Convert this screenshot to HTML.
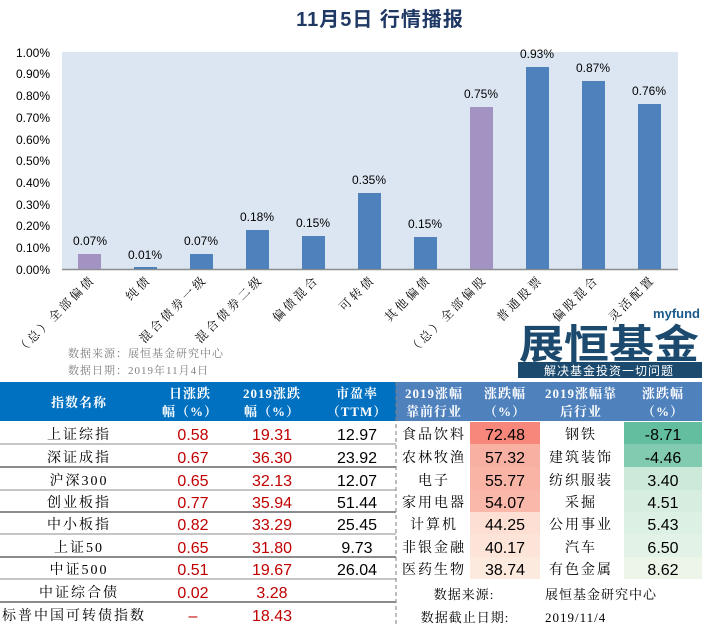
<!DOCTYPE html>
<html><head><meta charset="utf-8"><style>
body{margin:0;background:#fff;}
svg{display:block;}
.t{font-family:"Liberation Sans","Noto Sans CJK SC",sans-serif;}
.s{font-family:"Liberation Serif","Noto Serif CJK SC",serif;}
</style></head><body>
<svg width="702" height="626" viewBox="0 0 702 626" xmlns="http://www.w3.org/2000/svg">
<text x="380" y="26" text-anchor="middle" class="t" font-size="20" font-weight="bold" fill="#1f3864" letter-spacing="1">11月5日  行情播报</text>
<rect x="62" y="52" width="616" height="217" fill="#dce6f2"/>
<line x1="62" y1="269.5" x2="678" y2="269.5" stroke="#8c8c8c" stroke-width="1.5"/>
<g class="t" font-size="12" fill="#000" text-anchor="end">
<text x="50" y="274">0.00%</text><text x="50" y="252">0.10%</text><text x="50" y="230">0.20%</text><text x="50" y="209">0.30%</text><text x="50" y="187">0.40%</text><text x="50" y="165">0.50%</text><text x="50" y="144">0.60%</text><text x="50" y="122">0.70%</text><text x="50" y="100">0.80%</text><text x="50" y="78">0.90%</text><text x="50" y="57">1.00%</text>
</g>
<g class="t" font-size="12" text-anchor="middle" fill="#000">
<rect x="78" y="254" width="23" height="15" fill="#a393c3"/><text x="90" y="245">0.07%</text>
<rect x="134" y="267" width="23" height="2" fill="#4f81bd"/><text x="145" y="259">0.01%</text>
<rect x="190" y="254" width="23" height="15" fill="#4f81bd"/><text x="201" y="245">0.07%</text>
<rect x="246" y="230" width="23" height="39" fill="#4f81bd"/><text x="257" y="221">0.18%</text>
<rect x="302" y="236" width="23" height="33" fill="#4f81bd"/><text x="313" y="227">0.15%</text>
<rect x="358" y="193" width="23" height="76" fill="#4f81bd"/><text x="369" y="184">0.35%</text>
<rect x="414" y="237" width="23" height="32" fill="#4f81bd"/><text x="425" y="228">0.15%</text>
<rect x="470" y="107" width="23" height="162" fill="#a393c3"/><text x="481" y="98">0.75%</text>
<rect x="526" y="67" width="23" height="202" fill="#4f81bd"/><text x="537" y="58">0.93%</text>
<rect x="582" y="81" width="23" height="188" fill="#4f81bd"/><text x="593" y="72">0.87%</text>
<rect x="638" y="104" width="23" height="165" fill="#4f81bd"/><text x="649" y="95">0.76%</text>
</g>
<g class="s" font-size="12" fill="#000" text-anchor="end" letter-spacing="3">
<text transform="translate(96,280) rotate(-45)">（总）全部偏债</text>
<text transform="translate(152,280) rotate(-45)">纯债</text>
<text transform="translate(208,280) rotate(-45)">混合债券一级</text>
<text transform="translate(264,280) rotate(-45)">混合债券二级</text>
<text transform="translate(320,280) rotate(-45)">偏债混合</text>
<text transform="translate(376,280) rotate(-45)">可转债</text>
<text transform="translate(432,280) rotate(-45)">其他偏债</text>
<text transform="translate(488,280) rotate(-45)">（总）全部偏股</text>
<text transform="translate(544,280) rotate(-45)">普通股票</text>
<text transform="translate(600,280) rotate(-45)">偏股混合</text>
<text transform="translate(656,280) rotate(-45)">灵活配置</text>
</g>
<g class="s" font-size="11" fill="#808080" letter-spacing="1">
<text x="68" y="357">数据来源：展恒基金研究中心</text>
<text x="68" y="374">数据日期：2019年11月4日</text>
</g>
<text x="700" y="318" text-anchor="end" class="t" font-size="13" font-weight="bold" fill="#1a5a8a">myfund</text>
<text x="609" y="358" text-anchor="middle" class="t" font-size="40" font-weight="bold" fill="#1b4a6e" textLength="180" lengthAdjust="spacingAndGlyphs">展恒基金</text>
<rect x="518" y="362" width="184" height="16" fill="#1b4a6e"/>
<text x="609" y="375" text-anchor="middle" class="t" font-size="12" fill="#fff" letter-spacing="1">解决基金投资一切问题</text>
<rect x="0" y="382" width="396" height="39" fill="#0070c0"/>
<rect x="396" y="382" width="306" height="39" fill="#4f81bd"/>
<g class="s" font-size="13" font-weight="bold" fill="#fff" text-anchor="middle" letter-spacing="1">
<text x="79" y="407">指数名称</text>
<text x="190" y="398">日涨跌</text><text x="190" y="416">幅（%）</text>
<text x="272" y="398">2019涨跌</text><text x="272" y="416">幅（%）</text>
<text x="357" y="398">市盈率</text><text x="357" y="416">（TTM）</text>
<text x="434" y="398">2019涨幅</text><text x="434" y="416">靠前行业</text>
<text x="505" y="398">涨跌幅</text><text x="505" y="416">（%）</text>
<text x="581" y="398">2019涨幅靠</text><text x="581" y="416">后行业</text>
<text x="663" y="398">涨跌幅</text><text x="663" y="416">（%）</text>
</g>
<rect x="470" y="422" width="70" height="22" fill="#f6877a"/>
<rect x="470" y="444" width="70" height="23" fill="#f8b0a2"/>
<rect x="470" y="467" width="70" height="23" fill="#f9b4a6"/>
<rect x="470" y="490" width="70" height="22" fill="#f9b8aa"/>
<rect x="470" y="512" width="70" height="22" fill="#fde0d3"/>
<rect x="470" y="534" width="70" height="23" fill="#fde4d8"/>
<rect x="470" y="557" width="70" height="22" fill="#fdeadf"/>
<rect x="624" y="422" width="78" height="22" fill="#63bea0"/>
<rect x="624" y="444" width="78" height="23" fill="#82cab0"/>
<rect x="624" y="467" width="78" height="23" fill="#cde9d9"/>
<rect x="624" y="490" width="78" height="22" fill="#d6ede0"/>
<rect x="624" y="512" width="78" height="22" fill="#dcf0e4"/>
<rect x="624" y="534" width="78" height="23" fill="#e3f2e7"/>
<rect x="624" y="557" width="78" height="22" fill="#edf5e8"/>
<g stroke="#8c8c8c">
<line x1="0" y1="444" x2="396" y2="444" stroke-width="1"/>
<line x1="0" y1="467" x2="396" y2="467" stroke-width="2"/>
<line x1="0" y1="490" x2="396" y2="490" stroke-width="1"/>
<line x1="0" y1="512" x2="396" y2="512" stroke-width="2"/>
<line x1="0" y1="534" x2="396" y2="534" stroke-width="1"/>
<line x1="0" y1="557" x2="396" y2="557" stroke-width="2"/>
<line x1="0" y1="579" x2="396" y2="579" stroke-width="1"/>
<line x1="0" y1="602" x2="396" y2="602" stroke-width="2"/>
</g>
<line x1="396" y1="382" x2="396" y2="626" stroke="#7f7f7f" stroke-dasharray="4,3"/>
<g class="s" font-size="14" fill="#000" text-anchor="middle" letter-spacing="2">
<text x="79" y="439">上证综指</text>
<text x="79" y="462">深证成指</text>
<text x="79" y="485">沪深300</text>
<text x="79" y="507">创业板指</text>
<text x="79" y="529">中小板指</text>
<text x="79" y="552">上证50</text>
<text x="79" y="574">中证500</text>
<text x="79" y="597">中证综合债</text>
<text x="74" y="620">标普中国可转债指数</text>
<text x="434" y="439">食品饮料</text>
<text x="434" y="462">农林牧渔</text>
<text x="434" y="485">电子</text>
<text x="434" y="507">家用电器</text>
<text x="434" y="529">计算机</text>
<text x="434" y="552">非银金融</text>
<text x="434" y="574">医药生物</text>
<text x="581" y="439">钢铁</text>
<text x="581" y="462">建筑装饰</text>
<text x="581" y="485">纺织服装</text>
<text x="581" y="507">采掘</text>
<text x="581" y="529">公用事业</text>
<text x="581" y="552">汽车</text>
<text x="581" y="574">有色金属</text>
</g>
<g class="t" font-size="16" text-anchor="middle">
<g fill="#c00000">
<text x="193" y="440">0.58</text><text x="272" y="440">19.31</text>
<text x="193" y="463">0.67</text><text x="272" y="463">36.30</text>
<text x="193" y="486">0.65</text><text x="272" y="486">32.13</text>
<text x="193" y="508">0.77</text><text x="272" y="508">35.94</text>
<text x="193" y="530">0.82</text><text x="272" y="530">33.29</text>
<text x="193" y="553">0.65</text><text x="272" y="553">31.80</text>
<text x="193" y="575">0.51</text><text x="272" y="575">19.67</text>
<text x="193" y="598">0.02</text><text x="272" y="598">3.28</text>
<text x="193" y="621">–</text><text x="272" y="621">18.43</text>
</g>
<g fill="#000">
<text x="357" y="440">12.97</text><text x="357" y="463">23.92</text><text x="357" y="486">12.07</text><text x="357" y="508">51.44</text><text x="357" y="530">25.45</text><text x="357" y="553">9.73</text><text x="357" y="575">26.04</text>
<text x="505" y="440">72.48</text><text x="505" y="463">57.32</text><text x="505" y="486">55.77</text><text x="505" y="508">54.07</text><text x="505" y="530">44.25</text><text x="505" y="553">40.17</text><text x="505" y="575">38.74</text>
<text x="663" y="440">-8.71</text><text x="663" y="463">-4.46</text><text x="663" y="486">3.40</text><text x="663" y="508">4.51</text><text x="663" y="530">5.43</text><text x="663" y="553">6.50</text><text x="663" y="575">8.62</text>
</g>
</g>
<g class="s" font-size="13" fill="#000" letter-spacing="1">
<text x="464" y="599" text-anchor="middle">数据来源:</text>
<text x="545" y="599">展恒基金研究中心</text>
<text x="465" y="622" text-anchor="middle">数据截止日期:</text>
<text x="545" y="622">2019/11/4</text>
</g>
</svg>
</body></html>
